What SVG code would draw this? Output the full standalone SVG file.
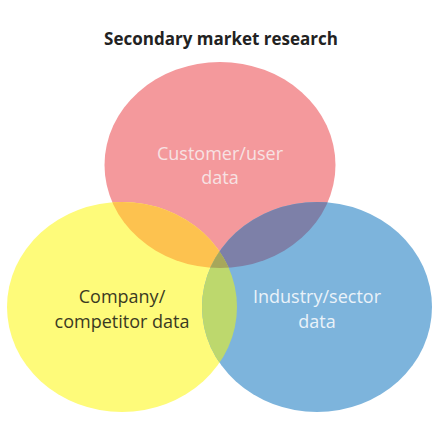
<svg xmlns="http://www.w3.org/2000/svg" width="437" height="437" viewBox="0 0 437 437">
<style>
.lbl{font-family:"Open Sans","Liberation Sans",sans-serif;font-size:18px;text-anchor:middle}
.title{font-family:"Open Sans","Liberation Sans",sans-serif;font-size:17px;font-weight:bold;text-anchor:middle;fill:#222}
</style>
<defs>
<ellipse id="eR" cx="220" cy="165" rx="115.5" ry="103"/>
<ellipse id="eY" cx="122" cy="307" rx="115" ry="105"/>
<ellipse id="eB" cx="317" cy="307" rx="115" ry="105"/>
<clipPath id="cR"><use href="#eR"/></clipPath>
<clipPath id="cY"><use href="#eY"/></clipPath>
<clipPath id="cB"><use href="#eB"/></clipPath>
</defs>
<rect width="437" height="437" fill="#fff"/>
<text class="title" x="221" y="45">Secondary market research</text>
<g id="customer">
<use href="#eR" fill="#f4999c"/>
</g>
<g id="company">
<use href="#eY" fill="#fefb7a"/>
</g>
<g id="industry">
<use href="#eB" fill="#7db4dc"/>
</g>
<g id="overlaps">
<g clip-path="url(#cR)"><use href="#eY" fill="#fdc24f"/><use href="#eB" fill="#7d80a8"/></g>
<g clip-path="url(#cY)"><use href="#eB" fill="#bdd86d"/></g>
<g clip-path="url(#cR)"><g clip-path="url(#cY)"><use href="#eB" fill="#a7a75b"/></g></g>
</g>
<g id="labels">
<text class="lbl" x="220" y="160" fill="#f7e2e3">Customer/user</text>
<text class="lbl" x="220" y="184" fill="#f7e2e3">data</text>
<text class="lbl" x="122" y="303" fill="#3a3a22">Company/</text>
<text class="lbl" x="122" y="328" fill="#3a3a22">competitor data</text>
<text class="lbl" x="317" y="303" fill="#eaf2f9">Industry/sector</text>
<text class="lbl" x="317" y="328" fill="#eaf2f9">data</text>
</g>
</svg>
